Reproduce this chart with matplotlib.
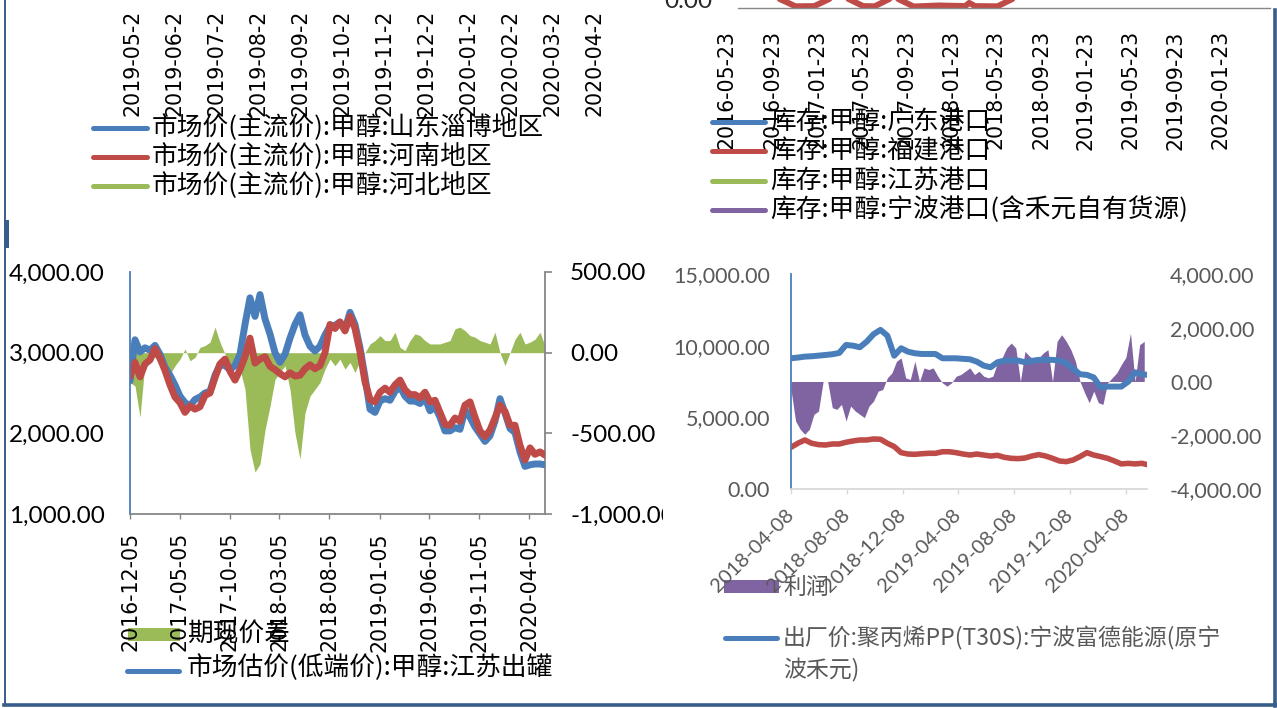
import matplotlib
matplotlib.use('Agg')
import matplotlib.pyplot as plt
import matplotlib.dates as mdates
import pandas as pd
from matplotlib.lines import Line2D
from matplotlib.patches import Rectangle

# ---------------- data ----------------
tl_ticks = ['2019-05-2', '2019-06-2', '2019-07-2', '2019-08-2', '2019-09-2', '2019-10-2',
            '2019-11-2', '2019-12-2', '2020-01-2', '2020-02-2', '2020-03-2', '2020-04-2']
tl_legend = ['市场价(主流价):甲醇:山东淄博地区', '市场价(主流价):甲醇:河南地区',
             '市场价(主流价):甲醇:河北地区']

tr_ticks = ['2016-05-23', '2016-09-23', '2017-01-23', '2017-05-23', '2017-09-23', '2018-01-23',
            '2018-05-23', '2018-09-23', '2019-01-23', '2019-05-23', '2019-09-23', '2020-01-23']
tr_legend = ['库存:甲醇:广东港口', '库存:甲醇:福建港口', '库存:甲醇:江苏港口',
             '库存:甲醇:宁波港口(含禾元自有货源)']
tr_fj_dates = ['2016-06-22', '2016-10-10', '2016-11-25', '2017-01-15', '2017-02-28', '2017-04-15',
               '2017-05-28', '2017-06-28', '2017-08-10', '2017-08-28', '2017-10-12', '2017-12-20',
               '2018-03-01', '2018-03-12', '2018-03-28', '2018-05-28', '2018-07-10', '2020-06-06']
tr_fj_values = [4500, 4500, 800, 900, 4500, 4500, 900, 800, 4500, 4500, 700, 1200,
                900, 2400, 900, 800, 4500, 4500]
tr_ylabel = 0

bl_ticks = ['2016-12-05', '2017-05-05', '2017-10-05', '2018-03-05', '2018-08-05',
            '2019-01-05', '2019-06-05', '2019-11-05', '2020-04-05']
bl_start, bl_end, bl_n = '2016-12-05', '2020-05-23', 84
bl_blue = [2650, 3160, 3010, 3060, 3030, 3090, 2980, 2820, 2720, 2600,
           2460, 2380, 2340, 2420, 2450, 2500, 2520, 2720, 2850, 2840,
           2790, 2840, 2980, 3350, 3680, 3450, 3720, 3420, 3230, 3000,
           2880, 2980, 3180, 3350, 3470, 3220, 3080, 3020, 3080, 3220,
           3330, 3340, 3380, 3290, 3500, 3350, 3060, 2700, 2300, 2260,
           2400, 2430, 2410, 2520, 2580, 2460, 2400, 2400, 2370, 2440,
           2280, 2330, 2200, 2030, 2030, 2070, 2050, 2290, 2200, 2080,
           1990, 1900, 1970, 2150, 2430, 2250, 2060, 2010, 1770, 1590,
           1610, 1620, 1620, 1610]
bl_red = [2700, 2880, 2700, 2860, 2910, 3050, 2930, 2780, 2600, 2450,
          2380, 2260, 2340, 2300, 2330, 2470, 2500, 2690, 2860, 2920,
          2770, 2660, 2790, 2950, 3180, 2870, 2920, 2950, 2830, 2790,
          2740, 2700, 2750, 2710, 2720, 2800, 2850, 2800, 2840, 3000,
          3350, 3300, 3380, 3270, 3450, 3300, 3010, 2640, 2420, 2390,
          2510, 2560, 2510, 2600, 2660, 2540, 2480, 2480, 2440, 2510,
          2390, 2410, 2260, 2110, 2100, 2190, 2150, 2350, 2390, 2200,
          2030, 1960, 2040, 2190, 2350, 2270, 2100, 2100, 1850, 1670,
          1820, 1740, 1770, 1730]
bl_spread = [-185, -206, -400, -60, -29, -29, -60, -123, -133, -81,
             -40, 23, -50, -29, 33, 44, 65, 158, 65, -8,
             -81, -40, -102, -227, -600, -740, -690, -480, -331, -165,
             -123, -81, -227, -498, -660, -373, -269, -227, -185, -102,
             -40, -81, -40, -102, -60, -123, -50, 0, 54, 75,
             106, 75, 75, 127, 33, 13, 75, 117, 106, 75,
             54, 54, 54, 65, 75, 148, 158, 137, 106, 96,
             75, 65, 54, 127, 0, -80, 0, 83, 127, 54,
             65, 83, 127, 42]
bl_legend = ['期现价差', '市场估价(低端价):甲醇:江苏出罐']

br_ticks = ['2018-04-08', '2018-08-08', '2018-12-08', '2019-04-08', '2019-08-08',
            '2019-12-08', '2020-04-08']
br_line_start, br_line_n, br_line_freq = '2018-04-08', 53, '15D'
br_pp = [9120, 9170, 9235, 9260, 9305, 9350, 9400, 9490, 10050, 10000,
         9890, 10280, 10800, 11100, 10700, 9300, 9820, 9580, 9470, 9420,
         9420, 9420, 9120, 9120, 9120, 9080, 9050, 8885, 8610, 8490,
         8840, 8960, 8960, 8960, 8840, 8940, 9010, 9010, 9010, 8960,
         8770, 8380, 8005, 7960, 7780, 7075, 7145, 7145, 7145, 7490,
         8140, 8000, 7960]
br_meth = [2910, 3190, 3420, 3190, 3095, 3070, 3140, 3140, 3260, 3350,
           3420, 3420, 3490, 3470, 3190, 2960, 2535, 2440, 2420, 2460,
           2490, 2490, 2600, 2600, 2535, 2440, 2370, 2440, 2370, 2300,
           2350, 2210, 2140, 2120, 2160, 2300, 2400, 2300, 2140, 1955,
           1910, 2025, 2260, 2535, 2370, 2260, 2140, 1955, 1750, 1790,
           1750, 1790, 1675]
br_profit_start, br_profit_n, br_profit_freq = '2018-04-08', 78, '10D'
br_profit = [-300, -1469, -1778, -1963, -1778, -1222, -1099, 0, 0, -975,
             -1037, -852, -1469, -914, -1099, -1222, -1346, -914, -728, -358,
             -296, 136, 321, 753, 877, 136, 74, 753, 0, 506,
             444, 506, 198, -49, -173, -49, 198, 259, 383, 506,
             259, 383, 198, 136, 198, 691, 877, 1247, 1432, 1247,
             0, 1123, 938, 815, 877, 1062, 1185, 0, 1494, 1741,
             1494, 1185, 753, 0, -420, -790, -358, -790, -852, -49,
             136, 321, 630, 900, 1800, 0, 1370, 1494]
br_legend = ['利润', '出厂价:聚丙烯PP(T30S):宁波富德能源(原宁', '波禾元)']

# ---------------- style ----------------
W, H = 1277, 708
BLUE, RED, GREEN, PURPLE = '#4A7EBB', '#BE4B48', '#9BBB59', '#8064A2'
GRID_GRAY, LIGHT_GRAY, TXT_GRAY = '#868686', '#D9D9D9', '#595959'
FRAME = '#385D8A'
CJK = ['Noto Sans CJK SC', 'DejaVu Sans']
NUM = 'Lato'
DATEF = 'DejaVu Sans'

fig = plt.figure(figsize=(W / 100, H / 100), dpi=100)
fig.patch.set_facecolor('white')


def fx(x):
    return x / W


def fy(y):
    return 1 - y / H


def axes_px(x0, y_top, x1, y_bot):
    return fig.add_axes([fx(x0), fy(y_bot), (x1 - x0) / W, (y_bot - y_top) / H])


def fmt(v):
    return f'{v:,.2f}'


def leg_line(x0, x1, y, color, lw=3.6):
    fig.add_artist(Line2D([fx(x0), fx(x1)], [fy(y), fy(y)], color=color, lw=lw,
                          solid_capstyle='round'))


def leg_text(x, y, s, size=18.5, color='black'):
    fig.text(fx(x), fy(y), s, fontsize=size, family=CJK, color=color,
             ha='left', va='center')


# ---------------- top-left (cropped chart) ----------------
ax_tl = axes_px(111, -60, 616, 2)
ax_tl.set_xlim(-0.5, len(tl_ticks) - 0.5)
ax_tl.set_xticks(range(len(tl_ticks)), labels=tl_ticks, rotation=90,
                 fontfamily=DATEF, fontsize=14.8)
ax_tl.set_yticks([])
ax_tl.tick_params(axis='x', length=0, pad=5.8)
for s in ax_tl.spines.values():
    s.set_visible(False)
ax_tl.patch.set_visible(False)

for i, (lab, col) in enumerate(zip(tl_legend, [BLUE, RED, GREEN])):
    y = 128 + 29 * i
    leg_line(93, 147, y, col)
    leg_text(152, y, lab)

# ---------------- top-right (cropped chart) ----------------
ax_tr = axes_px(718.9, -204, 1270, 8)
ax_tr.plot(pd.to_datetime(tr_fj_dates), tr_fj_values, color=RED, lw=4.3,
           solid_capstyle='round', solid_joinstyle='round')
ax_tr.set_xlim(pd.Timestamp('2016-05-01'), pd.Timestamp('2020-06-06'))
ax_tr.set_ylim(0, 100000)
ax_tr.set_yticks([])
ax_tr.set_xticks(pd.to_datetime(tr_ticks), labels=tr_ticks, rotation=90,
                 fontfamily=DATEF, fontsize=14.8)
ax_tr.tick_params(axis='x', length=0, pad=16)
for k in ['top', 'left', 'right']:
    ax_tr.spines[k].set_visible(False)
ax_tr.spines['bottom'].set_color(GRID_GRAY)
ax_tr.spines['bottom'].set_linewidth(1.0)
ax_tr.spines['bottom'].set_bounds(mdates.date2num(pd.Timestamp('2016-06-22')),
                                  mdates.date2num(pd.Timestamp('2020-06-06')))
ax_tr.patch.set_visible(False)
# value label of the (cropped) zero line, partly cut off by the screenshot edge
fig.text(fx(712), fy(2), fmt(tr_ylabel), fontsize=17.5, family=NUM, color='#262626',
         ha='right', va='center')

for i, (lab, col) in enumerate(zip(tr_legend, [BLUE, RED, GREEN, PURPLE])):
    y = 122 + 29.3 * i
    leg_line(712, 765, y, col)
    leg_text(770, y, lab)

# ---------------- bottom-left chart ----------------
bl_dates = pd.date_range(bl_start, bl_end, periods=bl_n)
ax_bl = axes_px(130, 272, 545, 514)
ax_bl2 = ax_bl.twinx()
ax_bl2.fill_between(bl_dates, 0, bl_spread, color=GREEN, lw=0)
ax_bl.plot(bl_dates, bl_blue, color=BLUE, lw=5, solid_capstyle='round',
           solid_joinstyle='round')
ax_bl.plot(bl_dates, bl_red, color=RED, lw=5, solid_capstyle='round',
           solid_joinstyle='round')
ax_bl.set_zorder(ax_bl2.get_zorder() + 1)
ax_bl.patch.set_visible(False)

ax_bl.set_xlim(pd.Timestamp(bl_start), pd.Timestamp(bl_end))
ax_bl.set_ylim(1000, 4000)
ax_bl2.set_ylim(-1000, 500)
lt = [1000, 2000, 3000, 4000]
rt = [-1000, -500, 0, 500]
ax_bl.set_yticks(lt, labels=[fmt(v) for v in lt], fontfamily=NUM, fontsize=17.5)
ax_bl2.set_yticks(rt, labels=[fmt(v) for v in rt], fontfamily=NUM, fontsize=17.5)
ax_bl.set_xticks(pd.to_datetime(bl_ticks), labels=bl_ticks, rotation=90,
                 fontfamily=DATEF, fontsize=14.8)
ax_bl.tick_params(axis='x', length=3.6, width=1, color=GRID_GRAY, pad=9.4)
ax_bl.tick_params(axis='y', length=0, pad=18)
ax_bl2.tick_params(axis='y', length=5, width=1.2, color=GRID_GRAY, pad=13)
for k in ['top', 'right']:
    ax_bl.spines[k].set_visible(False)
ax_bl.spines['left'].set_color(BLUE)
ax_bl.spines['left'].set_linewidth(1.3)
ax_bl.spines['bottom'].set_color(GRID_GRAY)
ax_bl.spines['bottom'].set_linewidth(1.3)
for k in ['top', 'left', 'bottom']:
    ax_bl2.spines[k].set_visible(False)
ax_bl2.spines['right'].set_color(GRID_GRAY)
ax_bl2.spines['right'].set_linewidth(1.3)

fig.add_artist(Rectangle((fx(128), fy(641)), 52 / W, 13 / H, facecolor=GREEN,
                         edgecolor='none'))
leg_text(187, 634, bl_legend[0])
leg_line(127, 179, 671, BLUE)
leg_text(187, 668, bl_legend[1])

# white cut of the screenshot for the clipped right label
fig.add_artist(Rectangle((fx(663), fy(530)), 40 / W, 32 / H, facecolor='white',
                         edgecolor='none', zorder=20))

# ---------------- bottom-right chart ----------------
br_line_dates = pd.date_range(br_line_start, periods=br_line_n, freq=br_line_freq)
br_profit_dates = pd.date_range(br_profit_start, periods=br_profit_n, freq=br_profit_freq)
ax_br = axes_px(791, 274, 1147, 489)
ax_br2 = ax_br.twinx()
ax_br2.fill_between(br_profit_dates, 0, br_profit, color=PURPLE, lw=0)
ax_br.plot(br_line_dates, br_pp, color=BLUE, lw=4.3, solid_capstyle='round',
           solid_joinstyle='round')
ax_br.plot(br_line_dates, br_meth, color=RED, lw=4.0, solid_capstyle='round',
           solid_joinstyle='round')
ax_br.set_zorder(ax_br2.get_zorder() + 1)
ax_br.patch.set_visible(False)

ax_br.set_xlim(pd.Timestamp('2018-04-08'), pd.Timestamp('2020-05-23'))
ax_br.set_ylim(0, 15000)
ax_br2.set_ylim(-4000, 4000)
blt = [0, 5000, 10000, 15000]
brt = [-4000, -2000, 0, 2000, 4000]
ax_br.set_yticks(blt, labels=[fmt(v) for v in blt], fontfamily=NUM, fontsize=15.5,
                 color=TXT_GRAY)
ax_br2.set_yticks(brt, labels=[fmt(v) for v in brt], fontfamily=NUM, fontsize=15.5,
                  color=TXT_GRAY)
ax_br.set_xticks(pd.to_datetime(br_ticks), labels=br_ticks, rotation=45, ha='right',
                 rotation_mode='anchor', fontfamily=NUM, fontsize=14.5, color=TXT_GRAY)
for lab in ax_br.get_xticklabels():
    lab.set_va('center')
ax_br.tick_params(axis='x', length=3.6, width=1, color=LIGHT_GRAY, pad=13)
ax_br.tick_params(axis='y', length=0, pad=15)
ax_br2.tick_params(axis='y', length=0, pad=16.5)
for k in ['top', 'right']:
    ax_br.spines[k].set_visible(False)
ax_br.spines['left'].set_color(BLUE)
ax_br.spines['left'].set_linewidth(1.3)
ax_br.spines['bottom'].set_color(LIGHT_GRAY)
ax_br.spines['bottom'].set_linewidth(1.3)
for s in ax_br2.spines.values():
    s.set_visible(False)

fig.add_artist(Rectangle((fx(724), fy(593)), 55 / W, 13 / H, facecolor=PURPLE,
                         edgecolor='none'))
leg_text(783, 587, br_legend[0], size=16.5, color=TXT_GRAY)
leg_line(725, 777, 638, BLUE)
leg_text(783, 638, br_legend[1], size=16.5, color=TXT_GRAY)
leg_text(783, 670, br_legend[2], size=16.5, color=TXT_GRAY)

# ---------------- page frame ----------------
fig.add_artist(Line2D([fx(4.5), fx(4.5)], [fy(0), fy(705)], color=FRAME, lw=1.4))
fig.add_artist(Rectangle((fx(4), fy(248)), 5 / W, 28 / H, facecolor=FRAME,
                         edgecolor='none'))
fig.add_artist(Line2D([fx(4), fx(1276)], [fy(704.5), fy(704.5)], color=FRAME, lw=2.6))
fig.add_artist(Line2D([fx(1274.5), fx(1274.5)], [fy(10), fy(706)], color=FRAME, lw=2.6))

fig.savefig('out.png', dpi=100, facecolor='white')
